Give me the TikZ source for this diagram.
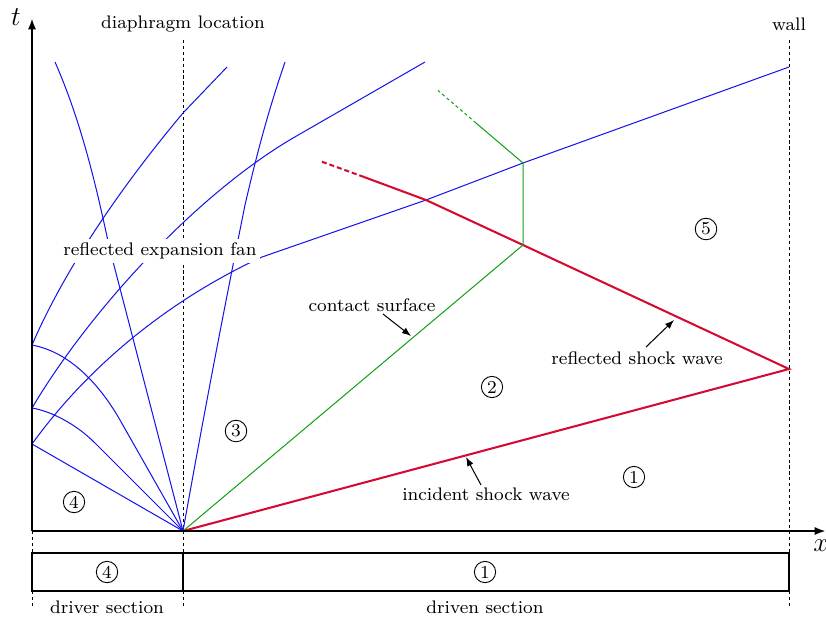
\documentclass[tikz,border=0pt]{standalone}
\usetikzlibrary{arrows.meta}
\definecolor{shockred}{RGB}{212,10,50}
\definecolor{csgreen}{RGB}{20,160,20}
\definecolor{fanblue}{RGB}{20,20,235}
\begin{document}
\begin{tikzpicture}[x=0.44pt,y=-0.44pt,
  axis/.style={line width=1pt,-{Latex[length=5pt,width=3.6pt]}},
  guide/.style={line width=0.4pt,dash pattern=on 1.4pt off 1.2pt},
  fan/.style={fanblue,line width=0.45pt},
  shock/.style={shockred,line width=0.9pt},
  contact/.style={csgreen,line width=0.45pt},
  lbl/.style={font=\footnotesize,inner sep=1pt},
  region/.style={circle,draw,line width=0.4pt,inner sep=0.9pt,font=\footnotesize},
  pointer/.style={line width=0.45pt,-{Latex[length=4pt,width=3pt]}},
  tube/.style={line width=1.1pt}]
\useasboundingbox (0,0) rectangle (826,617);

% key coordinates
\coordinate (A) at (32,531);
\coordinate (O) at (183,531);
\coordinate (W) at (789,369);
\coordinate (C1) at (523,245);
\coordinate (C2) at (523,163);
\coordinate (K) at (426,200);
\coordinate (R1) at (364,177);
\coordinate (R2) at (320,161);
\coordinate (G1) at (476,123);
\coordinate (G2) at (438,90.5);
\coordinate (E) at (789,67);
\coordinate (Tt) at (32,18);
\coordinate (Xt) at (826,531);
\coordinate (Dtop) at (183,40);
\coordinate (Wtop) at (789,40);
\coordinate (Wbot) at (789,531);

% guide lines
\draw[guide] (Dtop) -- (O);
\draw[guide] (Wtop) -- (Wbot);
\draw[guide] (O) -- (183,553);
\draw[guide] (A) -- (32,553);
\draw[guide] (Wbot) -- (789,553);
\draw[guide] (32,591) -- (32,608);
\draw[guide] (183,591) -- (183,608);
\draw[guide] (789,591) -- (789,608);

% expansion fan (blue)
% head
\draw[fan] (O) -- (110,250) .. controls (100,205) and (85,130) .. (55,62);
% tail
\draw[fan] (O) .. controls (210,380) and (230,280) .. (245,205) .. controls (260,140) and (272,100) .. (285,62);
% characteristics to the wall
\draw[fan] (O) -- (32,444);
\draw[fan] (O) -- (95,443) .. controls (75,423) and (50,411) .. (32,408);
\draw[fan] (O) -- (120,420) .. controls (100,385) and (70,352) .. (32,345);
% reflected characteristics
\draw[fan] (32,345) .. controls (60,280) and (110,200) .. (183,113) -- (227,67);
\draw[fan] (32,408) .. controls (90,310) and (200,190) .. (300,134) -- (425,62);
\draw[fan] (32,444) .. controls (100,350) and (190,290) .. (262,257) -- (K) -- (C2) -- (E);

% shocks (red)
\draw[shock] (O) -- (W) -- (C1) -- (K) -- (R1);
\draw[shock,dash pattern=on 2.2pt off 1.3pt] (R1) -- (R2);

% contact surface (green)
\draw[contact] (O) -- (C1) -- (C2) -- (G1);
\draw[contact,dash pattern=on 1.4pt off 1.2pt] (G1) -- (G2);

% axes
\draw[axis] (A) -- (Tt);
\draw[axis] (A) -- (Xt);
\node[font=\large,inner sep=0pt] (tlab) at (16,17) {$t$};
\node[font=\large,inner sep=0pt,anchor=west] (xlab) at (813,546) {$x$};

% top labels
\node[lbl] (diaph) at (183,24) {diaphragm location};
\node[lbl] (wall) at (789,24) {wall};

% annotations
\node[lbl,fill=white,inner sep=1.5pt] (reffan) at (160,251) {reflected expansion fan};
\node[lbl] (cslab) at (372,305) {contact surface};
\coordinate (csP) at (411,336);
\draw[pointer] (383,314) -- (csP);
\node[lbl] (rslab) at (637,358) {reflected shock wave};
\coordinate (rsP) at (674,320);
\draw[pointer] (646,347) -- (rsP);
\node[lbl] (islab) at (486,494) {incident shock wave};
\coordinate (isP) at (466,457);
\draw[pointer] (481,485) -- (isP);

% region numbers
\node[region] (r4) at (74,502) {4};
\node[region] (r3) at (236,431) {3};
\node[region] (r2) at (492,387) {2};
\node[region] (r1) at (634,477) {1};
\node[region] (r5) at (706,229) {5};

% shock tube
\draw[tube] (32,553) rectangle (789,591);
\draw[line width=0.45pt] (183,553) -- (183,591);
\node[region] (t4) at (107,572) {4};
\node[region] (t1) at (485,572) {1};
\node[lbl] (drv) at (107,607) {driver section};
\node[lbl] (dvn) at (485,607) {driven section};
\end{tikzpicture}
\end{document}
